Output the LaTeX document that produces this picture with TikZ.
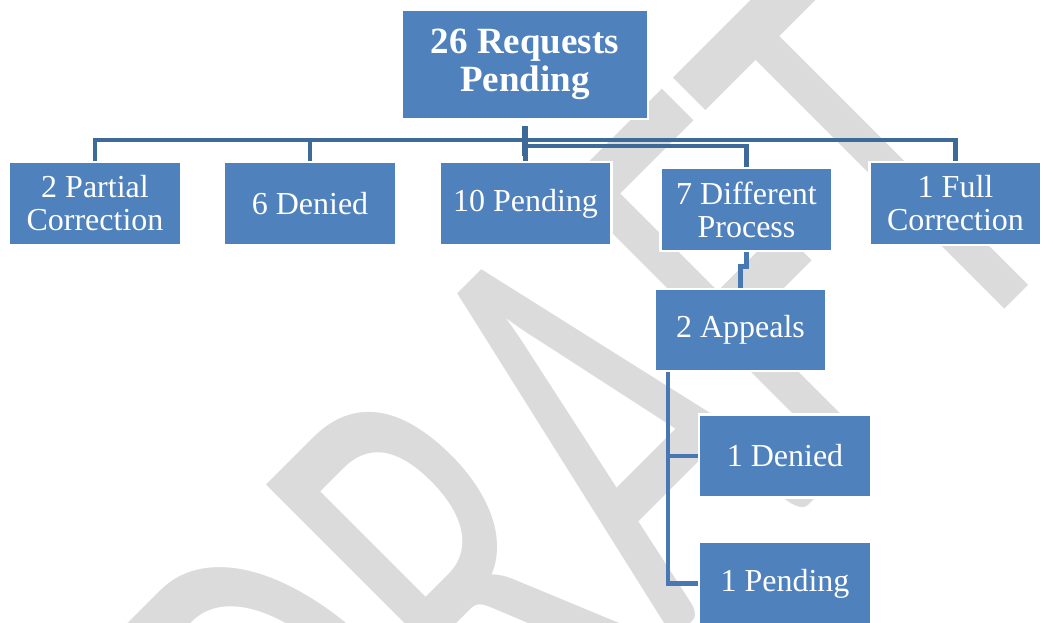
\documentclass[tikz,border=0pt]{standalone}
\usepackage{fontspec}
\setmainfont{Liberation Serif}
\newfontfamily\wmfont{Carlito}
\usetikzlibrary{positioning, calc, backgrounds}
\definecolor{boxblue}{HTML}{4F81BD}
\definecolor{linkblue}{HTML}{3E6A9A}
\definecolor{sublink}{HTML}{4878B4}
\begin{document}
\begin{tikzpicture}[
  x=1pt, y=-1pt,
  box/.style={draw=white, line width=2.5pt, fill=boxblue, text=white, align=center,
              minimum width=172pt, minimum height=83pt, inner sep=0pt,
              font=\fontsize{32}{33}\selectfont},
  topbox/.style={box, minimum width=246pt, minimum height=109pt,
                 font=\bfseries\fontsize{37}{38}\selectfont},
  conn/.style={draw=linkblue, line width=4.5pt},
  subconn/.style={draw=sublink, line width=4.5pt},
  wm/.style={anchor=base west, rotate=45, inner sep=0pt, text=black!14,
             font=\wmfont\fontsize{620}{620}\selectfont}
]
\useasboundingbox (0,0) rectangle (1053,623);
% boxes
\node[topbox] (req) at (525,64.5) {26 Requests\\Pending};
\node[box] (part) at (95,203.5) {2 Partial\\Correction};
\node[box] (den) at (310,203.5) {6 Denied};
\node[box] (pend) at (525.5,203.5) {10 Pending};
\node[box] (diff) at (746.5,209.5) {7 Different\\Process};
\node[box] (full) at (955.5,203.5) {1 Full\\Correction};
\node[box, minimum width=171pt, minimum height=82pt] (app) at (740.5,330) {2 Appeals};
\node[box] (apden) at (785,456) {1 Denied};
\node[box] (append) at (785,583.5) {1 Pending};
\coordinate (bar) at (525,140);
\begin{scope}[on background layer]
  \clip (0,0) rectangle (1053,623);
  \node[wm] (mark) at (364,950) {\scalebox{0.61}[1]{DRAFT}};
  % links
  \draw[conn] (part.north) |- (bar) -| (full.north);
  \draw[conn] (den.north) -- (den.north |- bar);
  \draw[conn] (pend.north) -- (pend.north |- bar);
  \draw[conn] ($(bar)+(0,6)$) -| (diff.north);
  \draw[conn, line width=6pt] ($(req.south)+(0,6)$) -- ($(req.south)+(0,36)$);
  \draw[subconn] (diff.south) -- ++(0,14) -| (app.north);
  \draw[subconn] ($(app.south west)+(14,0)$) |- (apden.west);
  \draw[subconn] ($(app.south west)+(14,0)$) |- (append.west);
\end{scope}
\end{tikzpicture}
\end{document}
